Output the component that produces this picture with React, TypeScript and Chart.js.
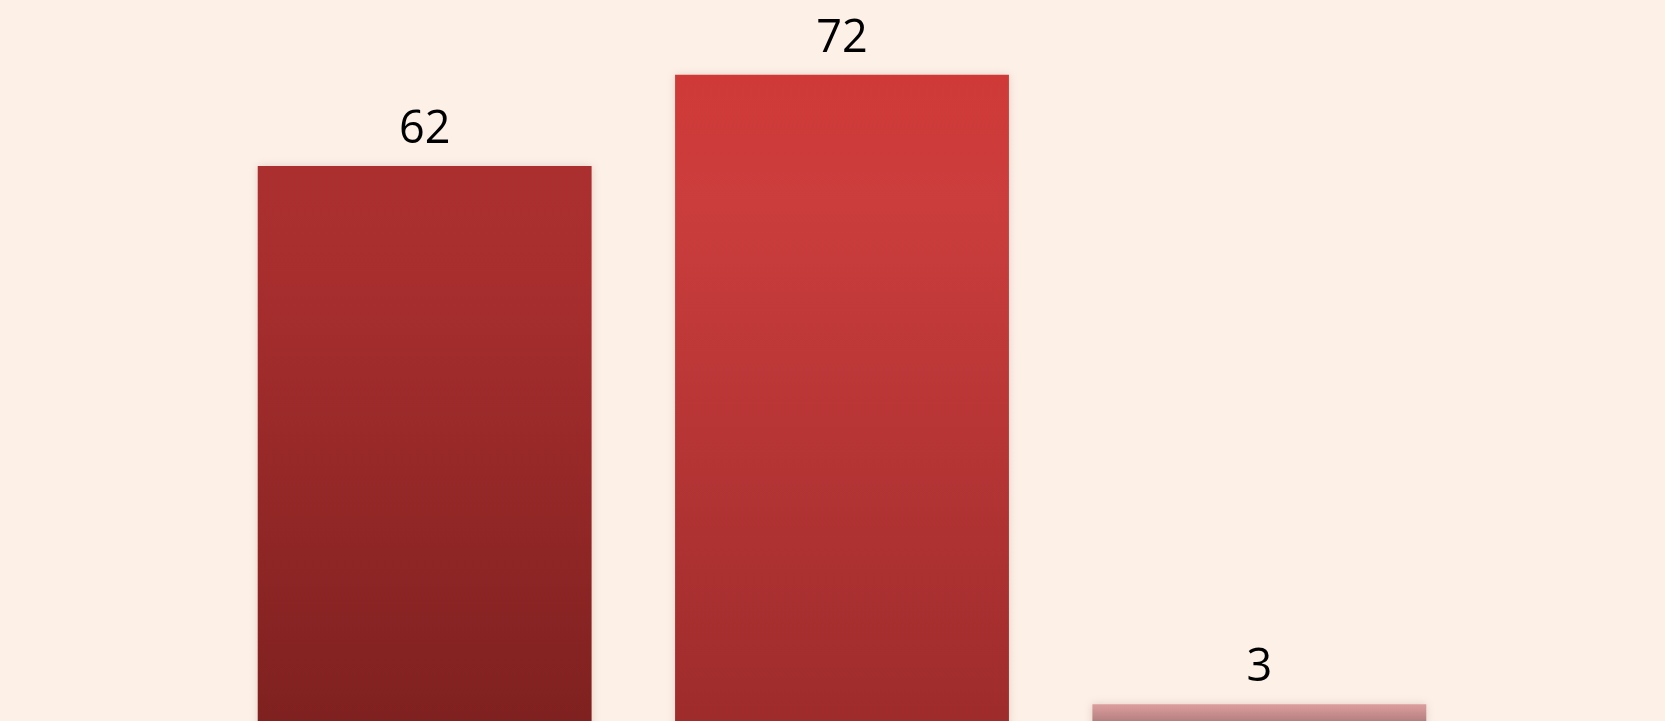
import React, { useEffect, useRef } from "react";
import { Chart, registerables } from "chart.js";

Chart.register(...registerables);

const categories: string[] = ["A", "B", "C"];
const values: number[] = [62, 72, 3];
const topColors: string[] = ["#AB2F2F", "#CF3A37", "#DB9E9E"];
const midColors: string[] = ["#A82E2E", "#CB3D3D", "#D69999"];
const bottomColors: string[] = ["#7F2120", "#9E2C2B", "#B47F80"];

const bgPlugin = {
  id: "bgFill",
  beforeDraw(chart: any) {
    const { ctx, width, height } = chart;
    ctx.save();
    ctx.fillStyle = "#FDF0E7";
    ctx.fillRect(0, 0, width, height);
    ctx.restore();
  },
};

const shadowPlugin = {
  id: "barShadow",
  beforeDatasetsDraw(chart: any) {
    const ctx = chart.ctx;
    ctx.save();
    ctx.shadowColor = "rgba(90,40,20,0.16)";
    ctx.shadowBlur = 8;
    ctx.shadowOffsetX = 0;
    ctx.shadowOffsetY = 0;
  },
  afterDatasetsDraw(chart: any) {
    chart.ctx.restore();
  },
};

const labelPlugin = {
  id: "valueLabels",
  afterDraw(chart: any) {
    const ctx = chart.ctx;
    const meta = chart.getDatasetMeta(0);
    ctx.save();
    ctx.fillStyle = "#000000";
    ctx.font = "45px 'Open Sans', sans-serif";
    ctx.textAlign = "center";
    ctx.textBaseline = "alphabetic";
    meta.data.forEach((el: any, i: number) => {
      ctx.fillText(String(values[i]), el.x, el.y - 23);
    });
    ctx.restore();
  },
};

export default function App() {
  const ref = useRef<HTMLCanvasElement | null>(null);
  useEffect(() => {
    document.body.style.margin = "0";
    document.body.style.overflow = "hidden";
    const canvas = ref.current;
    if (!canvas) return;
    const chart = new Chart(canvas, {
      type: "bar",
      data: {
        labels: categories,
        datasets: [
          {
            data: values,
            borderWidth: 0,
            backgroundColor: (c: any) => {
              const ch = c.chart;
              const i = c.dataIndex;
              if (!ch.chartArea || i === undefined) return topColors[0];
              const yScale = ch.scales.y;
              const top = yScale.getPixelForValue(values[i]);
              const bottom = ch.height;
              const g = ch.ctx.createLinearGradient(0, top, 0, bottom);
              g.addColorStop(0, topColors[i]);
              g.addColorStop(0.2, midColors[i]);
              g.addColorStop(1, bottomColors[i]);
              return g;
            },
            barPercentage: 0.8,
            categoryPercentage: 1.0,
          },
        ],
      },
      options: {
        animation: false,
        responsive: false,
        maintainAspectRatio: false,
        layout: { padding: { left: 216, right: 197, top: 0, bottom: 0 } },
        plugins: { legend: { display: false }, tooltip: { enabled: false } },
        scales: {
          x: { display: false },
          y: { display: false, min: 1.17, max: 80.2 },
        },
      },
      plugins: [bgPlugin, shadowPlugin, labelPlugin],
    });
    return () => chart.destroy();
  }, []);
  return (
    <div style={{ width: 1665, height: 721, overflow: "hidden" }}>
      <canvas ref={ref} width={1665} height={721} style={{ display: "block" }} />
    </div>
  );
}
